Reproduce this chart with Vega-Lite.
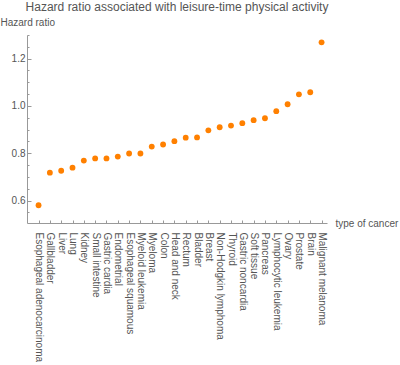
{
  "$schema": "https://vega.github.io/schema/vega-lite/v6.json",
  "autosize": "none",
  "width": 300,
  "height": 188,
  "padding": {"left": 27, "top": 35, "right": 73, "bottom": 142},
  "background": "white",
  "title": {
    "text": "Hazard ratio associated with leisure-time physical activity",
    "font": "Liberation Sans",
    "fontSize": 12,
    "fontWeight": "normal",
    "color": "#555555",
    "anchor": "middle",
    "baseline": "top",
    "offset": 0,
    "dy": -3
  },
  "config": {
    "view": {"stroke": null},
    "axis": {"labelFont": "Liberation Sans", "titleFont": "Liberation Sans", "grid": false}
  },
  "data": {
    "values": [
      {"cancer": "Esophageal adenocarcinoma", "hr": 0.58},
      {"cancer": "Gallbladder", "hr": 0.718},
      {"cancer": "Liver", "hr": 0.726},
      {"cancer": "Lung", "hr": 0.739},
      {"cancer": "Kidney", "hr": 0.769},
      {"cancer": "Small intestine", "hr": 0.778},
      {"cancer": "Gastric cardia", "hr": 0.778},
      {"cancer": "Endometrial", "hr": 0.786},
      {"cancer": "Esophageal squamous", "hr": 0.799},
      {"cancer": "Myeloid leukemia", "hr": 0.799},
      {"cancer": "Myeloma", "hr": 0.828},
      {"cancer": "Colon", "hr": 0.837},
      {"cancer": "Head and neck", "hr": 0.851},
      {"cancer": "Rectum", "hr": 0.866},
      {"cancer": "Bladder", "hr": 0.867},
      {"cancer": "Breast", "hr": 0.897},
      {"cancer": "Non-Hodgkin lymphoma", "hr": 0.91},
      {"cancer": "Thyroid", "hr": 0.917},
      {"cancer": "Gastric noncardia", "hr": 0.927},
      {"cancer": "Soft tissue", "hr": 0.94},
      {"cancer": "Pancreas", "hr": 0.948},
      {"cancer": "Lymphocytic leukemia", "hr": 0.978},
      {"cancer": "Ovary", "hr": 1.007},
      {"cancer": "Prostate", "hr": 1.049},
      {"cancer": "Brain", "hr": 1.058},
      {"cancer": "Malignant melanoma", "hr": 1.269}
    ]
  },
  "mark": {"type": "point", "filled": true, "size": 34, "color": "#ff8000", "opacity": 1},
  "encoding": {
    "x": {
      "field": "cancer",
      "type": "nominal",
      "sort": null,
      "scale": {"type": "point", "padding": 0.75, "align": 0.68},
      "axis": {
        "title": "type of cancer",
        "titleFontSize": 10,
        "titleFontWeight": "normal",
        "titleColor": "#555555",
        "titleAlign": "left",
        "titleBaseline": "middle",
        "titleAnchor": "start",
        "titleX": 308,
        "titleY": 0,
        "labelAngle": 90,
        "labelAlign": "left",
        "labelBaseline": "middle",
        "labelFontSize": 10,
        "labelColor": "#555555",
        "labelPadding": 12,
        "domainColor": "#999999",
        "domainWidth": 1,
        "tickColor": "#999999",
        "tickSize": -3,
        "labelOverlap": false
      }
    },
    "y": {
      "field": "hr",
      "type": "quantitative",
      "scale": {"domain": [0.505, 1.3], "nice": false, "zero": false},
      "axis": {
        "title": "Hazard ratio",
        "titleAngle": 0,
        "titleFontSize": 10,
        "titleFontWeight": "normal",
        "titleColor": "#555555",
        "titleAlign": "left",
        "titleBaseline": "middle",
        "titleX": -27,
        "titleY": -13,
        "values": [0.55, 0.6, 0.65, 0.7, 0.75, 0.8, 0.85, 0.9, 0.95, 1.0, 1.05, 1.1, 1.15, 1.2, 1.25, 1.3],
        "labelExpr": "abs(datum.value*5 - round(datum.value*5)) < 0.001 ? format(datum.value, '.1f') : ''",
        "labelFontSize": 10,
        "labelColor": "#555555",
        "labelPadding": 6,
        "domainColor": "#999999",
        "tickColor": "#999999",
        "tickSize": {"condition": {"test": "abs(datum.value*5 - round(datum.value*5)) < 0.001", "value": -4}, "value": -2}
      }
    }
  }
}
